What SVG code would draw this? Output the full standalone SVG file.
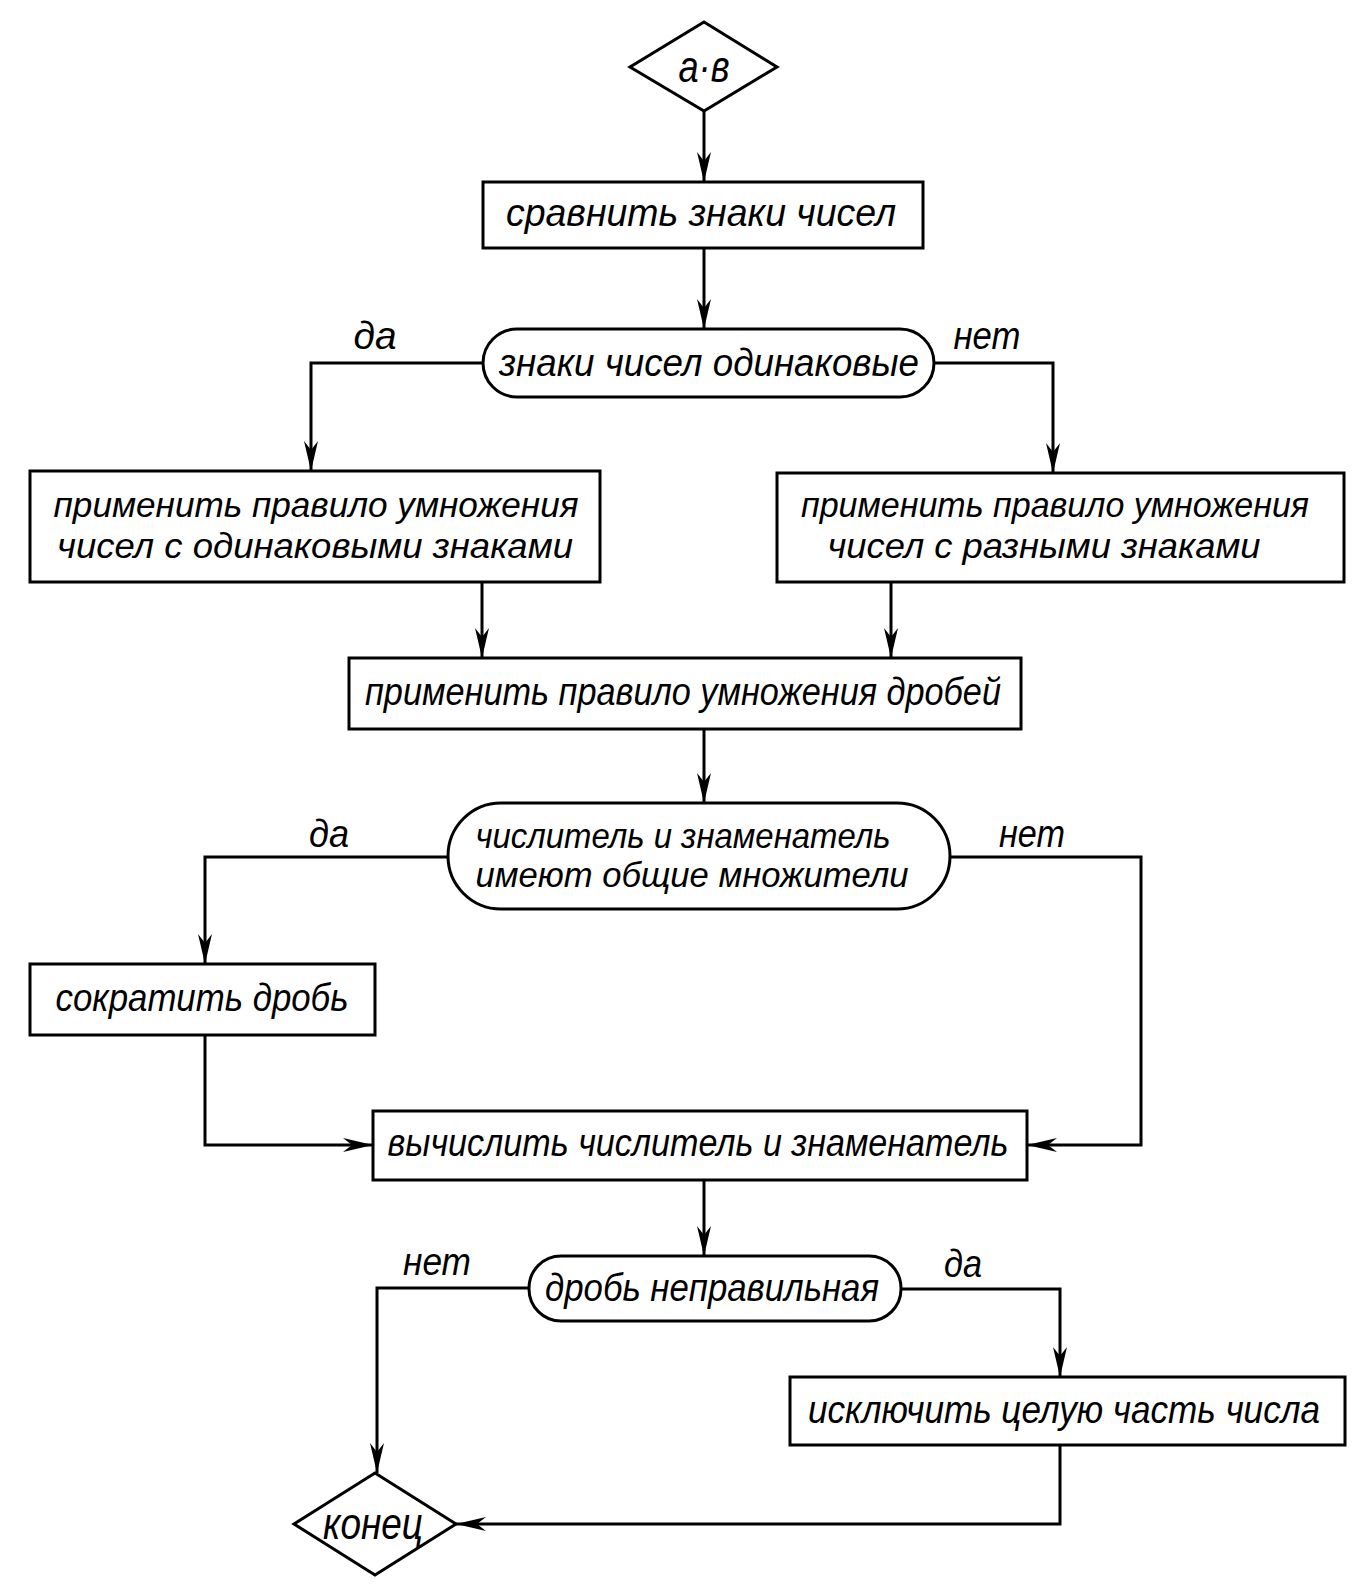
<svg xmlns="http://www.w3.org/2000/svg" width="1367" height="1588" viewBox="0 0 1367 1588">
<style>
.n{fill:#fff;stroke:#000;stroke-width:3}
.c{fill:none;stroke:#000;stroke-width:3}
text{font-family:"Liberation Sans","DejaVu Sans",sans-serif;font-style:italic;font-size:38px;fill:#000}
.m{text-anchor:middle}
.sm{font-size:35px}
.big{font-size:44px}
</style>
<defs>
<marker id="a" viewBox="0 0 30 16" refX="30" refY="8" markerWidth="30" markerHeight="16" markerUnits="userSpaceOnUse" orient="auto">
<path d="M0,1 L30,8 L0,15 L9,8 Z" fill="#000"/>
</marker>
</defs>
<rect width="1367" height="1588" fill="#fff"/>
<g id="connectors">
<path class="c" marker-end="url(#a)" d="M704,111 V182"/>
<path class="c" marker-end="url(#a)" d="M704,248 V329"/>
<path class="c" marker-end="url(#a)" d="M483,363 H311 V471"/>
<path class="c" marker-end="url(#a)" d="M934,363 H1053 V473"/>
<path class="c" marker-end="url(#a)" d="M482,582 V658"/>
<path class="c" marker-end="url(#a)" d="M891,582 V658"/>
<path class="c" marker-end="url(#a)" d="M704,729 V803"/>
<path class="c" marker-end="url(#a)" d="M448,857 H205 V964"/>
<path class="c" marker-end="url(#a)" d="M950,857 H1141 V1145 H1027"/>
<path class="c" marker-end="url(#a)" d="M205,1035 V1145 H373"/>
<path class="c" marker-end="url(#a)" d="M704,1180 V1256"/>
<path class="c" marker-end="url(#a)" d="M529,1288 H377 V1473"/>
<path class="c" marker-end="url(#a)" d="M901,1289 H1060 V1377"/>
<path class="c" marker-end="url(#a)" d="M1060,1445 V1524 H456"/>
<text x="375" y="349" class="m" textLength="43" lengthAdjust="spacingAndGlyphs">да</text>
<text x="987" y="349" class="m" textLength="67" lengthAdjust="spacingAndGlyphs">нет</text>
<text x="329" y="847" class="m" textLength="40" lengthAdjust="spacingAndGlyphs">да</text>
<text x="1032" y="847" class="m" textLength="66" lengthAdjust="spacingAndGlyphs">нет</text>
<text x="437" y="1275" class="m" textLength="68" lengthAdjust="spacingAndGlyphs">нет</text>
<text x="963" y="1277" class="m" textLength="38" lengthAdjust="spacingAndGlyphs">да</text>
</g>
<g id="start">
<polygon class="n" points="704,22 777,67 704,111 630,67"/>
<text x="704" y="82" class="m big" textLength="51" lengthAdjust="spacingAndGlyphs">а·в</text>
</g>
<g id="compare">
<rect class="n" x="483" y="182" width="440" height="66"/>
<text x="701" y="226" class="m" textLength="390" lengthAdjust="spacingAndGlyphs">сравнить знаки чисел</text>
</g>
<g id="same-signs">
<rect class="n" x="483" y="329" width="451" height="68" rx="34"/>
<text x="709" y="376" class="m" textLength="420" lengthAdjust="spacingAndGlyphs">знаки чисел одинаковые</text>
</g>
<g id="rule-same">
<rect class="n" x="30" y="471" width="570" height="111"/>
<text x="316" y="517" class="m sm" textLength="525" lengthAdjust="spacingAndGlyphs">применить правило умножения</text>
<text x="315" y="558" class="m sm" textLength="516" lengthAdjust="spacingAndGlyphs">чисел с одинаковыми знаками</text>
</g>
<g id="rule-diff">
<rect class="n" x="777" y="473" width="567" height="109"/>
<text x="1055" y="517" class="m sm" textLength="508" lengthAdjust="spacingAndGlyphs">применить правило умножения</text>
<text x="1044" y="558" class="m sm" textLength="433" lengthAdjust="spacingAndGlyphs">чисел с разными знаками</text>
</g>
<g id="rule-fractions">
<rect class="n" x="349" y="658" width="672" height="71"/>
<text x="683" y="705" class="m" textLength="636" lengthAdjust="spacingAndGlyphs">применить правило умножения дробей</text>
</g>
<g id="common-factors">
<rect class="n" x="448" y="803" width="502" height="106" rx="53"/>
<text x="683" y="848" class="m sm" textLength="415" lengthAdjust="spacingAndGlyphs">числитель и знаменатель</text>
<text x="692" y="887" class="m sm" textLength="433" lengthAdjust="spacingAndGlyphs">имеют общие множители</text>
</g>
<g id="reduce">
<rect class="n" x="30" y="964" width="345" height="71"/>
<text x="202" y="1011" class="m" textLength="293" lengthAdjust="spacingAndGlyphs">сократить дробь</text>
</g>
<g id="compute">
<rect class="n" x="373" y="1111" width="654" height="69"/>
<text x="698" y="1156" class="m" textLength="621" lengthAdjust="spacingAndGlyphs">вычислить числитель и знаменатель</text>
</g>
<g id="improper">
<rect class="n" x="529" y="1256" width="372" height="65" rx="32"/>
<text x="712" y="1301" class="m" textLength="334" lengthAdjust="spacingAndGlyphs">дробь неправильная</text>
</g>
<g id="whole-part">
<rect class="n" x="790" y="1377" width="555" height="68"/>
<text x="1064" y="1423" class="m" textLength="512" lengthAdjust="spacingAndGlyphs">исключить целую часть числа</text>
</g>
<g id="end">
<polygon class="n" points="375,1473 456,1524 375,1575 294,1524"/>
<text x="373" y="1539" class="m big" textLength="100" lengthAdjust="spacingAndGlyphs">конец</text>
</g>
</svg>
